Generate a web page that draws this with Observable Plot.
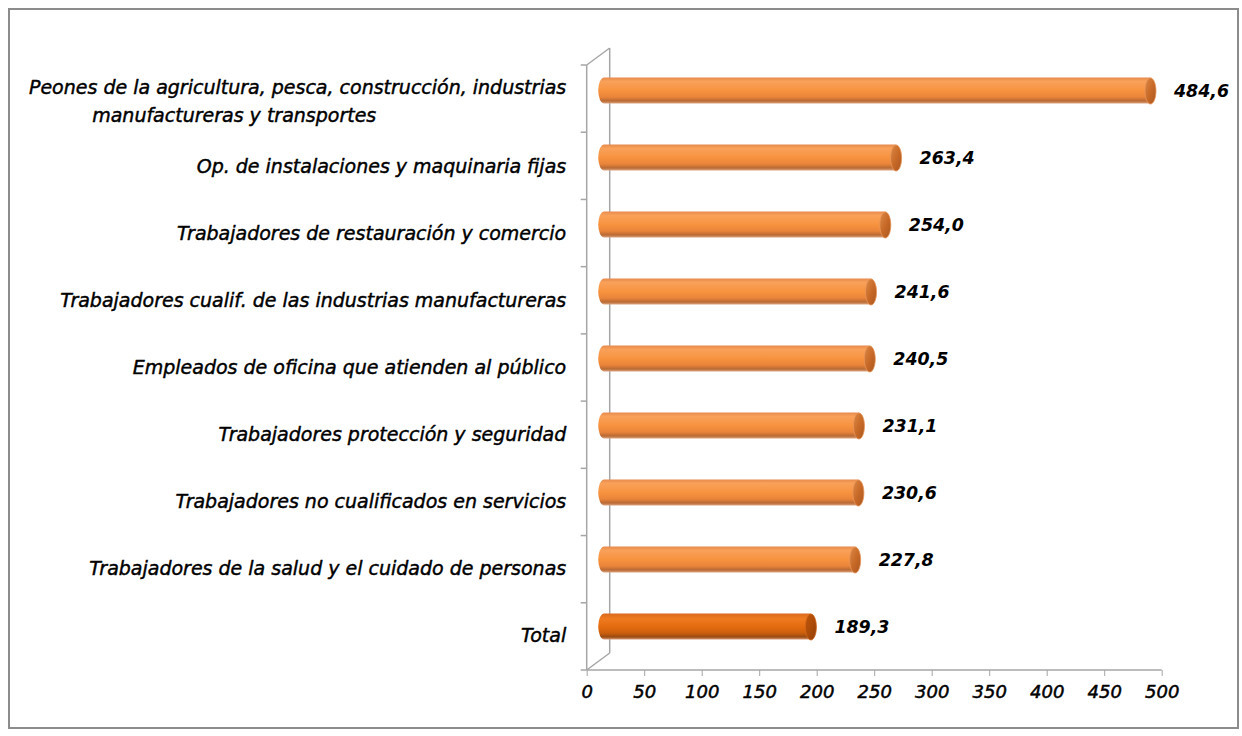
<!DOCTYPE html>
<html><head><meta charset="utf-8">
<script src="https://cdn.jsdelivr.net/npm/d3@7"></script>
<script src="https://cdn.jsdelivr.net/npm/@observablehq/plot@0.6"></script>
<style>
body{margin:0;background:#fff;}
#wrap{position:relative;width:1242px;height:736px;overflow:hidden;}
#border{position:absolute;left:8px;top:8px;width:1231px;height:721px;border:2px solid #8c8c8c;box-sizing:border-box;pointer-events:none;}
#chart{position:absolute;left:0;top:0;}
</style></head>
<body><div id="wrap"><div id="chart"></div><div id="border"></div></div>
<script>
const categories = [
  "Peones de la agricultura, pesca, construcción, industrias",
  "Op. de instalaciones y maquinaria fijas",
  "Trabajadores de restauración y comercio",
  "Trabajadores cualif. de las industrias manufactureras",
  "Empleados de oficina que atienden al público",
  "Trabajadores protección y seguridad",
  "Trabajadores no cualificados en servicios",
  "Trabajadores de la salud y el cuidado de personas",
  "Total"
];
const secondLines = ["manufactureras y transportes", "", "", "", "", "", "", "", ""];
const values = [484.6, 263.4, 254.0, 241.6, 240.5, 231.1, 230.6, 227.8, 189.3];
const xTicks = [0, 50, 100, 150, 200, 250, 300, 350, 400, 450, 500];

const rows = categories.map((c, i) => ({cat: c, value: values[i], line2: secondLines[i], total: c === "Total"}));

const W = 1242, H = 736, mL = 586.7, mR = 80.3, mT = 65, mB = 66;
const dX = 23, dY = 17;           // 3D depth offset
const bdx = dX / 2, bdy = -dY / 2; // bars sit mid-depth
const capRx = 5.5, capRy = 13;

const ellipse = {
  draw(ctx) {
    const k = 0.5523, rx = capRx, ry = capRy;
    ctx.moveTo(rx, 0);
    ctx.bezierCurveTo(rx, ry * k, rx * k, ry, 0, ry);
    ctx.bezierCurveTo(-rx * k, ry, -rx, ry * k, -rx, 0);
    ctx.bezierCurveTo(-rx, -ry * k, -rx * k, -ry, 0, -ry);
    ctx.bezierCurveTo(rx * k, -ry, rx, -ry * k, rx, 0);
    ctx.closePath();
  }
};

const fmt = v => v.toFixed(1).replace(".", ",");
const catFont = {fontSize: 19, fill: "#000", stroke: "#000", strokeWidth: 0.45};

const plot = Plot.plot({
  width: W, height: H,
  marginLeft: mL, marginRight: mR, marginTop: mT, marginBottom: mB,
  style: {fontFamily: "'DejaVu Sans', sans-serif", fontStyle: "italic", background: "transparent", overflow: "visible"},
  x: {domain: [0, 500], axis: null},
  y: {domain: categories, paddingInner: 0.61, paddingOuter: 0.305, axis: null},
  marks: [
    Plot.axisX({ticks: xTicks, tickSize: 6, tickFormat: () => "", stroke: "#a6a6a6", label: null}),
    Plot.text(xTicks, {x: d => d, frameAnchor: "bottom", text: d => String(d), dy: 27, fontSize: 18, fill: "#000", stroke: "#000", strokeWidth: 0.5}),
    Plot.barX(rows.filter(d => !d.total), {x: "value", y: "cat", fill: "url(#gOrange)", rx: 6, ry: 13, dx: bdx, dy: bdy}),
    Plot.barX(rows.filter(d => d.total), {x: "value", y: "cat", fill: "url(#gTotal)", rx: 6, ry: 13, dx: bdx, dy: bdy}),
    Plot.dot(rows.filter(d => !d.total), {x: "value", y: "cat", symbol: ellipse, r: 10, fill: "url(#gCap)", stroke: "#e8965a", strokeWidth: 0.8, dx: bdx - capRx, dy: bdy}),
    Plot.dot(rows.filter(d => d.total), {x: "value", y: "cat", symbol: ellipse, r: 10, fill: "url(#gCapT)", stroke: "#d0671c", strokeWidth: 0.8, dx: bdx - capRx, dy: bdy}),
    Plot.text(rows, {x: "value", y: "cat", text: d => fmt(d.value), textAnchor: "start", dx: bdx + 18, dy: bdy, fontWeight: "bold", fontSize: 17.4, fill: "#000"}),
    Plot.text(rows.filter(d => !d.line2), {frameAnchor: "left", y: "cat", text: "cat", textAnchor: "end", dx: -21, ...catFont}),
    Plot.text(rows.filter(d => d.line2), {frameAnchor: "left", y: "cat", text: "cat", textAnchor: "end", dx: -21, dy: -11.6, ...catFont}),
    Plot.text(rows.filter(d => d.line2), {frameAnchor: "left", y: "cat", text: "line2", textAnchor: "start", dx: -495, dy: 16.4, ...catFont})
  ]
});

const svg = d3.select(plot);
svg.insert("defs", ":first-child").html(`
  <linearGradient id="gOrange" x1="0" y1="0" x2="0" y2="1">
    <stop offset="0" stop-color="#e68a4c"/>
    <stop offset="0.15" stop-color="#f9a15a"/>
    <stop offset="0.5" stop-color="#f7933f"/>
    <stop offset="0.75" stop-color="#ea843a"/>
    <stop offset="0.9" stop-color="#b96a34"/>
    <stop offset="1" stop-color="#dca47e"/>
  </linearGradient>
  <linearGradient id="gTotal" x1="0" y1="0" x2="0" y2="1">
    <stop offset="0" stop-color="#d86a1e"/>
    <stop offset="0.2" stop-color="#ef7b20"/>
    <stop offset="0.5" stop-color="#e56b0f"/>
    <stop offset="0.75" stop-color="#cc5f0c"/>
    <stop offset="0.9" stop-color="#9a4a12"/>
    <stop offset="1" stop-color="#d89a78"/>
  </linearGradient>
  <linearGradient id="gCap" x1="0" y1="0" x2="1" y2="1">
    <stop offset="0" stop-color="#dc8a48"/>
    <stop offset="0.5" stop-color="#c86a28"/>
    <stop offset="1" stop-color="#a9561e"/>
  </linearGradient>
  <linearGradient id="gCapT" x1="0" y1="0" x2="1" y2="1">
    <stop offset="0" stop-color="#c0560c"/>
    <stop offset="0.5" stop-color="#ad4c08"/>
    <stop offset="1" stop-color="#8e3e06"/>
  </linearGradient>`);

// 3D wall / floor decoration lines drawn from the plot's own scales
const xs = plot.scale("x");
const x0 = xs.apply(0), x1 = xs.apply(500);
const yTop = mT, yBot = H - mB;
const step = (yBot - yTop) / categories.length;
const deco = svg.insert("g", "defs + *").attr("stroke", "#a6a6a6").attr("stroke-width", 1.5).attr("fill", "none");
const seg = (a, b, c, d) => deco.append("line").attr("x1", a).attr("y1", b).attr("x2", c).attr("y2", d);
seg(x0, yBot, x1, yBot);
seg(x0, yTop, x0, yBot);
seg(x0 + dX, yTop - dY, x0 + dX, yBot - dY);
seg(x0, yTop, x0 + dX, yTop - dY);
seg(x0, yBot, x0 + dX, yBot - dY);
for (let i = 0; i <= categories.length; i++) seg(x0 - 6, yTop + i * step, x0, yTop + i * step);

document.getElementById("chart").appendChild(plot);
</script></body></html>
